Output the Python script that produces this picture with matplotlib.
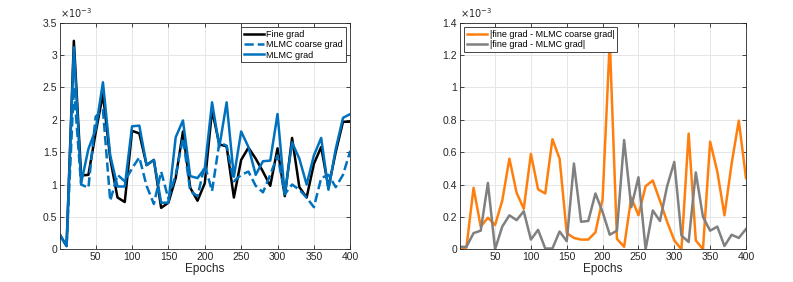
import numpy as np
import matplotlib.pyplot as plt

plt.rcParams['font.family'] = ['Liberation Sans', 'DejaVu Sans']

epochs = [1] + list(range(10, 401, 10))

# values in units of 1e-3
fine_grad = [0.22, 0.05, 3.22, 1.14, 1.15, 1.8, 2.4, 1.4, 0.8, 0.73,
             1.83, 1.79, 1.3, 1.38, 0.64, 0.72, 1.1, 1.82, 0.95, 0.75,
             1.02, 2.15, 1.62, 1.59, 0.8, 1.38, 1.57, 1.4, 1.2, 0.98,
             1.56, 0.82, 1.72, 0.96, 0.8, 1.32, 1.58, 0.95, 1.5, 1.97, 1.97]
mlmc_coarse = [0.22, 0.05, 2.5, 1.0, 0.95, 2.05, 2.15, 0.75, 1.15, 1.05,
               1.25, 1.42, 0.98, 0.7, 1.2, 0.78, 1.15, 1.72, 0.9, 0.82,
               1.3, 0.9, 1.65, 1.6, 1.05, 1.15, 1.2, 0.98, 0.88, 1.15,
               1.45, 0.85, 1.0, 0.92, 0.8, 0.65, 1.1, 1.15, 0.96, 1.15, 1.52]
mlmc_grad = [0.22, 0.05, 3.12, 1.02, 1.55, 1.85, 2.58, 1.45, 0.97, 0.97,
             1.9, 1.91, 1.3, 1.38, 0.72, 0.72, 1.73, 1.99, 1.13, 1.1,
             1.25, 2.27, 1.58, 2.27, 1.12, 1.82, 1.58, 1.15, 1.36, 1.37,
             2.09, 0.85, 1.65, 1.4, 1.0, 1.45, 1.72, 0.92, 1.55, 2.03, 2.09]

diff_coarse = [0.01, 0.01, 0.38, 0.14, 0.195, 0.15, 0.3, 0.56, 0.35, 0.25,
               0.59, 0.37, 0.345, 0.68, 0.56, 0.1, 0.07, 0.06, 0.06, 0.105,
               0.31, 1.29, 0.065, 0.015, 0.32, 0.21, 0.39, 0.425, 0.3, 0.17,
               0.055, 0.0, 0.715, 0.055, 0.0, 0.665, 0.48, 0.21, 0.53, 0.795, 0.44]
diff_mlmc = [0.015, 0.015, 0.1, 0.115, 0.41, 0.0, 0.14, 0.21, 0.18, 0.235,
             0.06, 0.12, 0.005, 0.005, 0.11, 0.05, 0.53, 0.17, 0.175, 0.345,
             0.23, 0.09, 0.115, 0.675, 0.26, 0.445, 0.0, 0.24, 0.175, 0.39,
             0.54, 0.085, 0.045, 0.475, 0.2, 0.115, 0.14, 0.02, 0.09, 0.07, 0.125]

blue = '#0072BD'
orange = '#FF7F0E'
gray = '#808080'
txt = '#262626'

fig = plt.figure(figsize=(7.93, 2.82), dpi=100)
ax1 = fig.add_axes([0.0757, 0.116, 0.366, 0.8035])
ax2 = fig.add_axes([0.580, 0.116, 0.3607, 0.8035])


def style(ax, ymax, yticks):
    ax.set_xlim(1, 400)
    ax.set_ylim(0, ymax)
    ax.set_xticks(range(50, 401, 50))
    ax.set_yticks(yticks)
    ax.set_yticklabels(['%g' % t for t in yticks])
    ax.grid(True, color='#e6e6e6', linewidth=0.7)
    ax.set_axisbelow(True)
    ax.tick_params(direction='in', length=3, width=0.6, labelsize=7.5,
                   colors=txt, top=True, right=True, pad=2)
    for s in ax.spines.values():
        s.set_color('#262626')
        s.set_linewidth(0.6)
    ax.set_xlabel('Epochs', fontsize=8.5, color=txt, labelpad=1)
    ax.text(0.0, 1.01, r'$\times10^{-3}$', transform=ax.transAxes,
            fontsize=7, color=txt, ha='left', va='bottom')


ax1.plot(epochs, fine_grad, color='k', lw=1.8, label='Fine grad')
ax1.plot(epochs, mlmc_coarse, color=blue, lw=1.8, ls='--', label='MLMC coarse grad')
ax1.plot(epochs, mlmc_grad, color=blue, lw=1.8, label='MLMC grad')
style(ax1, 3.5, [0, 0.5, 1, 1.5, 2, 2.5, 3, 3.5])
leg = ax1.legend(loc='upper right', fontsize=6.5, fancybox=False, framealpha=1,
                 edgecolor='#262626', handlelength=2.2, handletextpad=0.3,
                 borderpad=0.3, labelspacing=0.15, borderaxespad=0.5)
leg.get_frame().set_linewidth(0.6)

ax2.plot(epochs, diff_coarse, color=orange, lw=1.8, label='|fine grad - MLMC coarse grad|')
ax2.plot(epochs, diff_mlmc, color=gray, lw=1.8, label='|fine grad - MLMC grad|')
style(ax2, 1.4, [0, 0.2, 0.4, 0.6, 0.8, 1, 1.2, 1.4])
leg = ax2.legend(loc='upper left', fontsize=6.5, fancybox=False, framealpha=1,
                 edgecolor='#262626', handlelength=2.2, handletextpad=0.3,
                 borderpad=0.3, labelspacing=0.15, borderaxespad=0.5)
leg.get_frame().set_linewidth(0.6)

fig.savefig('out.png', dpi=100)
